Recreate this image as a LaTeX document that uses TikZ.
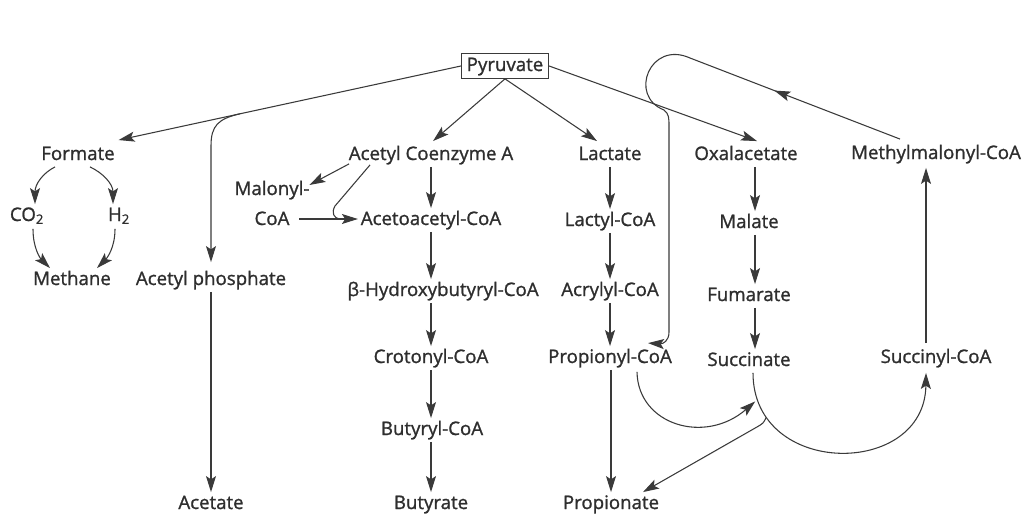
\documentclass[tikz,border=0pt]{standalone}
\usepackage{fontspec}
\setmainfont{Open Sans}[FakeBold=1.2]
\usetikzlibrary{arrows.meta,decorations.markings,calc}
\definecolor{txt}{HTML}{2E2E2E}
\definecolor{ln}{HTML}{3A3A3A}
\begin{document}
\begin{tikzpicture}[x=0.75pt,y=-0.75pt,
  every node/.style={text=txt,font=\fontsize{14}{16}\selectfont,inner sep=2pt,text height=10.5pt,text depth=3pt},
  malbox/.style={text height=,text depth=,align=center,font=\fontsize{14}{22.5}\selectfont},
  pbox/.style={draw=ln,line width=0.8pt,inner xsep=4pt,inner ysep=2.5pt},
  conn/.style={draw=ln,line width=0.8pt},
  tipst/.style={-{Stealth[length=12pt,width=7.5pt,inset=2.5pt]}},
  arr/.style={conn,tipst},
  midmark/.style={postaction={decorate},decoration={markings,mark=at position #1 with {\arrow{Stealth[length=12pt,width=7.5pt,inset=2.5pt]}}}}
]
\path[use as bounding box] (0,0) rectangle (1027,517);

% nodes
\node[pbox] (P) at (505,66) {Pyruvate};
\node (F) at (78,155) {Formate};
\node (CO) at (27,216) {CO\textsubscript{2}};
\node (H) at (119,216) {H\textsubscript{2}};
\node (Me) at (72,280) {Methane};
\node (AP) at (211,280) {Acetyl phosphate};
\node (Ac) at (211,504) {Acetate};
\node[malbox] (Mal) at (272,203) {Malonyl-\\CoA};
\node (ACoA) at (431,155) {Acetyl Coenzyme A};
\node (AcAc) at (431,220) {Acetoacetyl-CoA};
\node (HB) at (443,291) {β-Hydroxybutyryl-CoA};
\node (Cr) at (431,358) {Crotonyl-CoA};
\node (BC) at (432,430) {Butyryl-CoA};
\node (Bu) at (431,504) {Butyrate};
\node (La) at (610,155) {Lactate};
\node (LC) at (610,221) {Lactyl-CoA};
\node (Acr) at (610,291) {Acrylyl-CoA};
\node (PC) at (610,358) {Propionyl-CoA};
\node (Pr) at (611,504) {Propionate};
\node (Ox) at (746,155) {Oxalacetate};
\node (Ma) at (749,223) {Malate};
\node (Fu) at (749,296) {Fumarate};
\node (Su) at (749,361) {Succinate};
\node (SC) at (936,358) {Succinyl-CoA};
\node (MM) at (936,154) {Methylmalonyl-CoA};

% column of the oxalacetate arrows
\coordinate (oc) at ($(Ma.north)+(6,0)$);

% Pyruvate branches
\draw[arr] (P.west) -- coordinate[pos=0.645] (br) ($(F.north east)+(1,-3)$);
\coordinate (b1) at ($(br)+(0,12)$);
\coordinate (b2) at ($(br)+(0,32)$);
\draw[arr] (br) .. controls ($(br)+(-22,5)$) and (AP.north |- b1) .. (AP.north |- b2) -- ($(AP.north)+(0,-6)$);
\draw[arr] (AP) -- (Ac);
\draw[arr] (P.south) -- ($(ACoA.north)+(2,-2)$);
\draw[arr] (P.south) -- ($(La.north)+(-13,-2)$);
\draw[arr] (P.east) -- ($(Ox.north)+(11,-2)$);

% formate cycle
\draw[arr] ($(F.south)+(-23,0)$) .. controls ($(F.south)+(-35,6)$) and ($(CO.north)+(8,-20)$) .. ($(CO.north)+(8,0)$);
\draw[arr] ($(F.south)+(12,0)$) .. controls ($(F.south)+(25,6)$) and ($(H.north)+(-6,-20)$) .. ($(H.north)+(-6,0)$);
\draw[arr] ($(CO.south)+(6,1)$) .. controls ($(CO.south)+(6,20)$) and ($(Me.north)+(-32,-10)$) .. ($(Me.north)+(-22,0)$);
\draw[arr] ($(H.south)+(-4,1)$) .. controls ($(H.south)+(-4,20)$) and ($(Me.north)+(35,-10)$) .. ($(Me.north)+(25,0)$);

% acetyl-CoA branch
\draw[arr] ($(ACoA.south)+(-82,-3)$) -- ($(Mal.east)+(-3,-18)$);
\coordinate (mc) at ($(Mal.east)+(-13,16)$);
\draw[arr] (mc) -- (mc -| AcAc.west);
\draw[conn] ($(ACoA.south)+(-61,-2)$) -- (335,206) .. controls (331,213) and (334,218) .. ($(mc)+(40,0)$);
\draw[arr] (ACoA.south -| AcAc.north) -- (AcAc.north);
\draw[arr] (AcAc.south) -- (AcAc.south |- HB.north);
\draw[arr] (Cr.north |- HB.south) -- (Cr.north);
\draw[arr] (Cr.south) -- (Cr.south |- BC.north);
\draw[arr] (Cr.south |- BC.south) -- (Cr.south |- Bu.north);

% lactate branch
\draw[arr] (La) -- (LC);
\draw[arr] (LC) -- (Acr);
\draw[arr] (Acr) -- (PC);
\draw[arr] (PC.south -| Pr.north) -- (Pr.north);

% oxalacetate branch
\draw[arr] (oc |- Ox.south) -- (oc);
\draw[arr] (oc |- Ma.south) -- (oc |- Fu.north);
\draw[arr] (oc |- Fu.south) -- (oc |- Su.north);

% big succinate curve
\draw[arr] ($(Su.south)+(4,0)$) .. controls (753,478) and (925,478) .. coordinate[pos=0.17] (bk) ($(SC.south)+(-10,3)$);
\draw[arr] (bk) .. controls ($(bk)+(-3,6)$) .. ($(bk)+(-10,10)$) -- ($(Pr.north)+(32,0)$);
\draw[arr] ($(PC.south)+(27,2)$) .. controls (638,425) and (705,445) .. ($(bk)+(-11,-16)$);

% methylmalonyl
\draw[arr] ($(SC.north)+(-10,-3)$) -- ($(MM.south)+(-10,2)$);
\draw[arr,midmark=101pt] ($(MM.north)+(-36,-3)$) -- (690,58) .. controls (650,40) and (628,96) .. (664,110) .. controls (669,114) and (669,118) .. (669,126) -- (669,332) .. controls (669,341) and (663,344) .. ($(PC.north)+(38,-3)$);
\end{tikzpicture}
\end{document}
